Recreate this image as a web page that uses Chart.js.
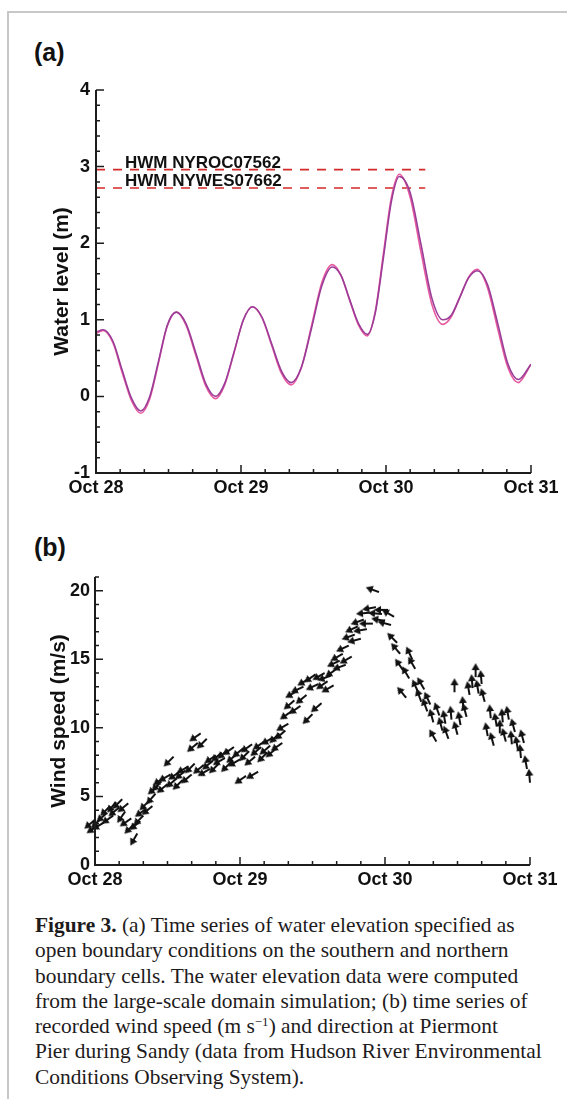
<!DOCTYPE html>
<html>
<head>
<meta charset="utf-8">
<script src="https://cdn.jsdelivr.net/npm/chart.js@4.4.1/dist/chart.umd.min.js"></script>
<style>
  body { margin: 0; background: #fff; width: 567px; height: 1099px; position: relative; overflow: hidden; }
  #frame { position: absolute; left: 7px; top: 11px; width: 620px; height: 1100px; border-left: 2px solid #c8c8c8; border-top: 2px solid #c8c8c8; }
  .plabel { position: absolute; left: 34px; font: bold 25px/25px 'Liberation Sans', Arial, sans-serif; color: #111; }
  canvas { position: absolute; left: 0; }
  #caption { position: absolute; left: 35px; top: 913px; font: 21.4px/25.3px 'Liberation Serif', 'Times New Roman', serif; color: #1e1b1c; white-space: nowrap; }
  #caption sup { font-size: 13px; line-height: 0; vertical-align: 7px; }
</style>
</head>
<body>
<div id="frame"></div>
<div class="plabel" style="top:40px">(a)</div>
<canvas id="tideChart" width="567" height="505" style="top:0"></canvas>
<div class="plabel" style="top:535px">(b)</div>
<canvas id="windChart" width="567" height="380" style="top:520px"></canvas>
<div id="caption">
<b>Figure 3.</b> (a) Time series of water elevation specified as<br>
open boundary conditions on the southern and northern<br>
boundary cells. The water elevation data were computed<br>
from the large-scale domain simulation; (b) time series of<br>
recorded wind speed (m s<sup>−1</sup>) and direction at Piermont<br>
Pier during Sandy (data from Hudson River Environmental<br>
Conditions Observing System).
</div>
<script>
// time axis (hours after Oct 28 00:00)
var dayHours = [0, 24, 48, 72];
var dayLabels = ['Oct 28', 'Oct 29', 'Oct 30', 'Oct 31'];

// (a) water level at the two open boundaries
var tideHours = [0, 1.2, 2.8, 4.3, 5.9, 7.4, 8.9, 10.35, 11.8, 13.3, 14.9, 16.55, 18.2, 19.8, 21.3, 22.85, 24.4, 25.9,
  27.5, 29.1, 30.7, 32.3, 34.0, 35.7, 37.4, 39.1, 40.55, 42.0, 43.45, 44.9, 46.2, 47.55, 48.9, 50.2,
  52.0, 53.8, 55.6, 57.4, 58.8, 60.25, 61.7, 63.1, 64.8, 66.5, 68.2, 69.9, 72];
var levelSouth = [0.82, 0.86, 0.70, 0.32, -0.06, -0.22, -0.03, 0.44, 0.92, 1.10, 0.93, 0.53, 0.13, -0.03, 0.15, 0.57, 1.00, 1.17,
  1.02, 0.66, 0.30, 0.15, 0.38, 0.93, 1.49, 1.72, 1.58, 1.25, 0.93, 0.79, 1.10, 1.85, 2.60, 2.90,
  2.60, 1.88, 1.20, 0.94, 1.04, 1.30, 1.56, 1.66, 1.42, 0.88, 0.37, 0.18, 0.42];
var levelNorth = [0.84, 0.87, 0.72, 0.35, -0.03, -0.19, 0.00, 0.46, 0.93, 1.10, 0.95, 0.56, 0.16, 0.00, 0.17, 0.58, 1.00, 1.17,
  1.03, 0.68, 0.33, 0.18, 0.38, 0.90, 1.45, 1.69, 1.58, 1.26, 0.95, 0.81, 1.08, 1.80, 2.55, 2.87,
  2.66, 1.98, 1.28, 1.00, 1.06, 1.30, 1.55, 1.64, 1.46, 0.95, 0.42, 0.22, 0.42];
var tideTicks = [-1, 0, 1, 2, 3, 4];
var tideTickLabels = ['-1', '0', '1', '2', '3', '4'];

// high water marks
var hwmLevels = [2.96, 2.72];
var hwmNames = ['HWM NYROC07562', 'HWM NYWES07662'];
var hwmEndHour = 54.5;
var hwmTextHour = 4.8;

// (b) wind speed and direction it blows toward (deg, 0 = north)
var windHours = [0, 0.5, 1, 1.5, 2, 2.5, 3, 3.5, 4, 4.5, 5, 5.5,
  6, 6.5, 7, 7.5, 8, 8.5, 9, 9.5, 10, 10.5, 11, 11.5,
  12, 12.5, 13, 13.5, 14, 14.5, 15, 15.5, 16, 16.5, 17, 17.5,
  18, 18.5, 19, 19.5, 20, 20.5, 21, 21.5, 22, 22.5, 23, 23.5,
  24, 24.5, 25, 25.5, 26, 26.5, 27, 27.5, 28, 28.5, 29, 29.5,
  30, 30.5, 31, 31.5, 32, 32.5, 33, 33.5, 34, 34.5, 35, 35.5,
  36, 36.5, 37, 37.5, 38, 38.5, 39, 39.5, 40, 40.5, 41, 41.5,
  42, 42.5, 43, 43.5, 44, 44.5, 45, 45.5, 46, 46.5, 47, 47.5,
  48, 48.5, 49, 49.5, 50, 50.5, 51, 51.5, 52, 52.5, 53, 53.5,
  54, 54.5, 55, 55.5, 56, 56.5, 57, 57.5, 58, 58.5, 59, 59.5,
  60, 60.5, 61, 61.5, 62, 62.5, 63, 63.5, 64, 64.5, 65, 65.5,
  66, 66.5, 67, 67.5, 68, 68.5, 69, 69.5, 70, 70.5, 71, 71.5,
  72];
var windSpeed = [3.3, 2.9, 3.4, 3.1, 3.8, 4.3, 3.6, 4.6, 4.2, 4.8, 3.9, 4.5,
  3.4, 3.0, 2.3, 3.2, 3.6, 4.1, 4.7, 4.3, 5.2, 5.8, 6.1, 6.4,
  5.9, 6.6, 7.9, 6.3, 6.8, 6.2, 6.9, 7.2, 6.6, 7.4, 8.9, 9.6,
  7.3, 9.2, 7.0, 7.6, 8.0, 7.4, 8.2, 7.8, 8.4, 7.5, 8.6, 8.1,
  7.7, 8.5, 6.5, 8.3, 8.8, 7.9, 6.8, 8.6, 9.0, 8.2, 8.7, 9.3,
  8.5, 9.6, 8.9, 9.8, 10.3, 11.2, 12.0, 12.7, 11.6, 13.0, 12.4, 13.6,
  11.0, 13.9, 13.2, 11.8, 14.0, 13.4, 13.8, 13.1, 14.3, 14.9, 15.4, 14.6,
  16.0, 15.2, 16.8, 17.4, 16.5, 17.9, 17.2, 18.4, 17.6, 18.8, 19.9, 18.3,
  17.8, 18.6, 17.5, 18.1, 16.2, 15.4, 14.2, 12.2, 13.6, 15.0, 14.3, 12.6,
  11.9, 12.8, 11.2, 11.7, 10.4, 9.0, 10.9, 9.8, 10.3, 9.2, 10.6, 12.6,
  9.5, 10.2, 11.3, 10.8, 12.4, 12.9, 13.7, 12.5, 13.2, 11.9, 9.4, 10.7,
  8.7, 10.1, 9.6, 10.4, 9.0, 10.6, 8.8, 9.7, 8.4, 7.8, 8.9, 7.0,
  6.0];
var windDir = [230, 235, 225, 240, 230, 225, 235, 220, 230, 225, 215, 230,
  235, 225, 210, 230, 225, 235, 225, 230, 220, 230, 225, 235,
  230, 240, 225, 230, 235, 225, 230, 240, 230, 225, 230, 235,
  230, 225, 240, 230, 235, 225, 230, 240, 230, 225, 235, 230,
  240, 230, 235, 225, 235, 230, 240, 230, 235, 225, 230, 240,
  230, 225, 235, 230, 240, 235, 230, 240, 235, 245, 230, 240,
  225, 235, 245, 230, 240, 235, 250, 240, 235, 245, 240, 250,
  245, 240, 250, 245, 255, 250, 260, 265, 270, 260, 290, 275,
  280, 270, 285, 300, 315, 320, 325, 320, 330, 335, 330, 335,
  340, 330, 340, 335, 345, 330, 340, 345, 350, 340, 355, 0,
  345, 350, 355, 345, 350, 355, 0, 350, 355, 345, 350, 355,
  345, 350, 0, 355, 345, 350, 355, 345, 350, 355, 345, 350,
  355];
var windTicks = [0, 5, 10, 15, 20];
var windTickLabels = ['0', '5', '10', '15', '20'];

Chart.defaults.font.family = "'Liberation Sans', Arial, sans-serif";
Chart.defaults.color = '#111';

var tickFont = { size: 18, weight: 'bold' };
var titleFont = { size: 21, weight: 'bold' };

// axis lines with inward major/minor ticks
var inwardTicks = {
  id: 'inwardTicks',
  afterDraw: function (chart, args, opts) {
    var ctx = chart.ctx, a = chart.chartArea, xs = chart.scales.x, ys = chart.scales.y;
    ctx.save();
    ctx.strokeStyle = '#1c1c1c';
    ctx.lineWidth = 2;
    ctx.beginPath();
    ctx.moveTo(a.left, a.top);
    ctx.lineTo(a.left, a.bottom);
    ctx.lineTo(a.right, a.bottom);
    ctx.stroke();
    ctx.lineWidth = 1.5;
    ctx.beginPath();
    for (var v = xs.min; v <= xs.max + 1e-6; v += opts.xMinor) {
      var px = xs.getPixelForValue(v);
      var len = dayHours.indexOf(Math.round(v)) >= 0 ? 8 : 4;
      ctx.moveTo(px, a.bottom);
      ctx.lineTo(px, a.bottom - len);
    }
    for (var k = 0; ys.min + k * opts.yMinor <= ys.max + 1e-6; k++) {
      var w = ys.min + k * opts.yMinor;
      var py = ys.getPixelForValue(w);
      var major = Math.abs(w / opts.yMajor - Math.round(w / opts.yMajor)) < 1e-6;
      ctx.moveTo(a.left, py);
      ctx.lineTo(a.left + (major ? 8 : 4), py);
    }
    ctx.stroke();
    ctx.restore();
  }
};

// dashed high water mark lines with their names
var hwmPlugin = {
  id: 'hwm',
  beforeDatasetsDraw: function (chart) {
    var ctx = chart.ctx, xs = chart.scales.x, ys = chart.scales.y;
    ctx.save();
    ctx.strokeStyle = '#d42a2a';
    ctx.lineWidth = 1.6;
    ctx.setLineDash([9, 8]);
    hwmLevels.forEach(function (lv) {
      var py = ys.getPixelForValue(lv);
      ctx.beginPath();
      ctx.moveTo(xs.getPixelForValue(0), py);
      ctx.lineTo(xs.getPixelForValue(hwmEndHour), py);
      ctx.stroke();
    });
    ctx.restore();
  },
  afterDatasetsDraw: function (chart) {
    var ctx = chart.ctx, xs = chart.scales.x, ys = chart.scales.y;
    ctx.save();
    ctx.fillStyle = '#111';
    ctx.font = "bold 17px 'Liberation Sans', Arial, sans-serif";
    ctx.textBaseline = 'alphabetic';
    hwmLevels.forEach(function (lv, i) {
      ctx.fillText(hwmNames[i], xs.getPixelForValue(hwmTextHour), ys.getPixelForValue(lv) - 2);
    });
    ctx.restore();
  }
};

function timeAxis(h) {
  return {
    type: 'linear', min: 0, max: 72,
    afterBuildTicks: function (s) { s.ticks = dayHours.map(function (v) { return { value: v }; }); },
    ticks: { font: tickFont, padding: 4, maxRotation: 0, autoSkip: false,
      callback: function (v, i) { return dayLabels[i]; } },
    grid: { display: false, drawTicks: false },
    border: { display: false },
    afterFit: function (s) { s.height = h; }
  };
}

new Chart(document.getElementById('tideChart'), {
  type: 'line',
  data: {
    datasets: [{
      data: tideHours.map(function (h, i) { return { x: h, y: levelNorth[i] }; }),
      borderColor: '#9a3d98', borderWidth: 1.6, pointRadius: 0, cubicInterpolationMode: 'monotone'
    }, {
      data: tideHours.map(function (h, i) { return { x: h, y: levelSouth[i] }; }),
      borderColor: '#e75a9f', borderWidth: 1.6, pointRadius: 0, cubicInterpolationMode: 'monotone'
    }]
  },
  options: {
    responsive: false, animation: false,
    layout: { padding: { left: 46, top: 90, right: 36, bottom: 0 } },
    plugins: { legend: { display: false }, tooltip: { enabled: false },
      inwardTicks: { xMinor: 4, yMinor: 0.2, yMajor: 1 } },
    scales: {
      x: timeAxis(32),
      y: {
        min: -1, max: 4,
        afterBuildTicks: function (s) { s.ticks = tideTicks.map(function (v) { return { value: v }; }); },
        ticks: { font: tickFont, padding: 6, callback: function (v, i) { return tideTickLabels[i]; } },
        grid: { display: false, drawTicks: false },
        border: { display: false },
        title: { display: true, text: 'Water level (m)', font: titleFont, color: '#111', padding: { top: 4, bottom: 4 } },
        afterFit: function (s) { s.width = 50; }
      }
    }
  },
  plugins: [inwardTicks, hwmPlugin]
});

// arrow sprite: tail at the sprite centre, pointing up (north)
var arrow = document.createElement('canvas');
arrow.width = 30; arrow.height = 30;
var actx = arrow.getContext('2d');
actx.strokeStyle = '#111';
actx.fillStyle = '#111';
actx.lineWidth = 2;
actx.beginPath();
actx.moveTo(15, 15);
actx.lineTo(15, 5);
actx.stroke();
actx.beginPath();
actx.moveTo(15, 1);
actx.lineTo(11, 8);
actx.lineTo(19, 8);
actx.closePath();
actx.fill();

new Chart(document.getElementById('windChart'), {
  type: 'scatter',
  data: {
    datasets: [{
      data: windHours.map(function (h, i) { return { x: h, y: windSpeed[i] }; }),
      pointStyle: arrow,
      pointRadius: 6,
      rotation: function (c) { return windDir[c.dataIndex]; },
      clip: false
    }]
  },
  options: {
    responsive: false, animation: false,
    layout: { padding: { left: 43, top: 57, right: 37, bottom: 0 } },
    plugins: { legend: { display: false }, tooltip: { enabled: false },
      inwardTicks: { xMinor: 4, yMinor: 1, yMajor: 5 } },
    scales: {
      x: timeAxis(35),
      y: {
        min: 0, max: 21,
        afterBuildTicks: function (s) { s.ticks = windTicks.map(function (v) { return { value: v }; }); },
        ticks: { font: tickFont, padding: 5, callback: function (v, i) { return windTickLabels[i]; } },
        grid: { display: false, drawTicks: false },
        border: { display: false },
        title: { display: true, text: 'Wind speed (m/s)', font: titleFont, color: '#111', padding: { top: 4, bottom: 4 } },
        afterFit: function (s) { s.width = 52; }
      }
    }
  },
  plugins: [inwardTicks]
});
</script>
</body>
</html>
